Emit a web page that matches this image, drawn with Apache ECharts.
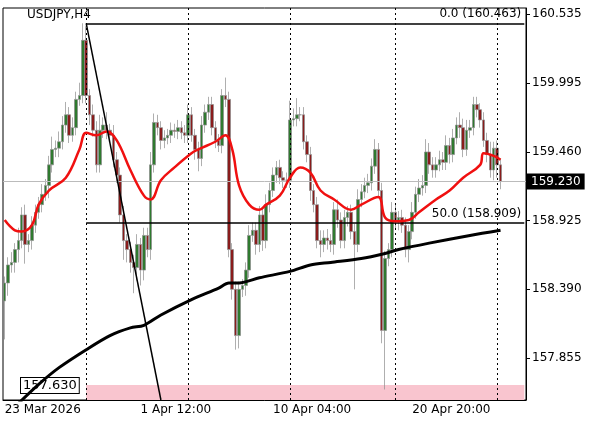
<!DOCTYPE html>
<html>
<head>
<meta charset="utf-8">
<script src="https://cdn.jsdelivr.net/npm/echarts@6/dist/echarts.min.js"></script>
<style>html,body{margin:0;padding:0;background:#fff}#chart{width:596px;height:425px}</style>
</head>
<body>
<div id="chart"></div>
<script>
var closes = [158.44,158.58,158.60,158.70,158.77,158.97,158.74,158.77,158.89,158.99,
  159.05,159.13,159.20,159.36,159.48,159.49,159.54,159.67,159.75,159.59,
  159.65,159.87,159.90,160.33,159.90,159.75,159.63,159.36,159.63,159.67,
  159.63,159.59,159.40,159.28,158.97,158.77,158.70,158.60,158.56,158.74,
  158.54,158.81,158.70,159.36,159.69,159.65,159.55,159.57,159.59,159.63,
  159.62,159.65,159.61,159.59,159.75,159.59,159.48,159.41,159.67,159.77,
  159.83,159.65,159.55,159.51,159.90,159.87,158.70,158.39,158.03,158.39,
  158.42,158.54,158.81,158.85,158.74,158.97,158.77,159.05,159.16,159.28,
  159.34,159.26,159.24,159.24,159.71,159.72,159.75,159.75,159.54,159.44,
  159.16,159.05,158.77,158.74,158.79,158.77,158.74,159.01,158.93,158.77,
  158.95,158.99,158.84,158.74,159.09,159.15,159.20,159.22,159.35,159.48,
  159.16,158.07,158.63,158.70,158.99,158.92,158.95,158.89,158.70,158.84,
  158.99,159.13,159.18,159.20,159.46,159.36,159.32,159.36,159.40,159.38,
  159.51,159.44,159.57,159.67,159.65,159.48,159.63,159.65,159.83,159.79,
  159.71,159.55,159.44,159.32,159.49,159.36,159.23]
var firstOpen = 158.30
// wick lengths above / below the body
var wickUp = [0.05,0.06,0.08,0.05,0.10,0.06,0.08,0.05,0.07,0.06,
  0.06,0.08,0.05,0.07,0.10,0.06,0.08,0.07,0.10,0.06,
  0.08,0.06,0.10,0.06,0.11,0.05,0.08,0.07,0.12,0.06,
  0.10,0.05,0.08,0.06,0.06,0.07,0.05,0.06,0.06,0.08,
  0.05,0.06,0.06,0.10,0.07,0.06,0.05,0.06,0.05,0.06,
  0.05,0.06,0.05,0.06,0.08,0.06,0.05,0.06,0.07,0.06,
  0.06,0.06,0.05,0.05,0.05,0.14,0.06,0.05,0.06,0.06,
  0.05,0.06,0.08,0.06,0.06,0.07,0.06,0.08,0.06,0.06,
  0.05,0.06,0.05,0.06,0.15,0.08,0.13,0.06,0.06,0.05,
  0.06,0.05,0.06,0.08,0.06,0.07,0.05,0.06,0.08,0.06,
  0.06,0.05,0.06,0.06,0.08,0.06,0.06,0.07,0.06,0.08,
  0.05,0.06,0.06,0.05,0.08,0.06,0.05,0.06,0.06,0.05,
  0.08,0.06,0.07,0.08,0.10,0.07,0.06,0.06,0.07,0.06,
  0.08,0.06,0.07,0.06,0.10,0.07,0.08,0.06,0.06,0.06,
  0.05,0.06,0.06,0.10,0.05,0.06,0.05]
var wickDn = [0.30,0.10,0.06,0.08,0.10,0.06,0.15,0.06,0.07,0.06,
  0.05,0.06,0.05,0.10,0.06,0.06,0.07,0.06,0.06,0.06,
  0.05,0.06,0.05,0.06,0.06,0.08,0.05,0.06,0.06,0.06,
  0.07,0.05,0.06,0.06,0.06,0.15,0.10,0.08,0.20,0.10,
  0.12,0.08,0.06,0.08,0.06,0.06,0.07,0.06,0.05,0.06,
  0.05,0.06,0.05,0.06,0.06,0.05,0.08,0.10,0.06,0.06,
  0.06,0.06,0.06,0.05,0.06,0.06,0.06,0.08,0.11,0.10,
  0.06,0.08,0.06,0.05,0.08,0.06,0.08,0.06,0.06,0.05,
  0.06,0.05,0.06,0.06,0.06,0.05,0.06,0.05,0.06,0.06,
  0.08,0.06,0.06,0.10,0.06,0.07,0.06,0.08,0.06,0.06,
  0.06,0.07,0.06,0.35,0.06,0.06,0.05,0.06,0.06,0.06,
  0.06,0.10,0.46,0.06,0.06,0.06,0.07,0.06,0.06,0.10,
  0.06,0.05,0.06,0.06,0.06,0.07,0.06,0.06,0.05,0.06,
  0.06,0.07,0.06,0.05,0.08,0.06,0.05,0.06,0.06,0.06,
  0.06,0.05,0.06,0.06,0.08,0.10,0.06]
// red (fast) and black (slow) moving averages: [bar index, price]
var maFast = [[0,158.93],[3,158.85],[5,158.84],[8,158.89],[10,159.05],[13,159.16],[18,159.26],[22,159.48],
  [24,159.61],[27,159.59],[30,159.62],[33,159.55],[37,159.32],[41,159.12],[43,159.09],[46,159.24],
  [50,159.34],[55,159.45],[57,159.48],[62,159.54],[65,159.59],[67,159.48],[69,159.20],[72,159.05],
  [75,159.01],[77,159.05],[81,159.12],[84,159.26],[87,159.34],[90,159.30],[93,159.16],[97,159.09],
  [102,159.01],[105,159.05],[110,159.11],[112,158.95],[115,158.92],[119,158.93],[122,158.99],
  [127,159.09],[131,159.16],[135,159.26],[140,159.36],[141,159.45],[144,159.43],[146,159.40]]
var maSlow = [[4,157.50],[10,157.65],[16,157.78],[24,157.92],[31,158.03],[37,158.09],[41,158.11],
  [46,158.19],[55,158.31],[63,158.40],[66,158.44],[69,158.44],[75,158.48],[84,158.53],[90,158.58],
  [96,158.60],[105,158.63],[112,158.67],[116,158.70],[125,158.75],[137,158.81],[146,158.85]]
var priceTicks = [157.855, 158.390, 158.925, 159.460, 159.995, 160.535]
var labelIdx = [0, 40, 79, 120]
var labelTxt = ['23 Mar 2026', '1 Apr 12:00', '10 Apr 04:00', '20 Apr 20:00']
var gridIdx = [24, 54, 84, 115, 145]
var fibHigh = 160.463, fibMid = 158.909, lastPrice = 159.230, zoneTop = 157.645
var yMin = 157.528, yMax = 160.582
var nCats = 154

var cats = [], candles = [], prev = firstOpen
for (var i = 0; i < nCats; i++) cats.push(String(i))
closes.forEach(function (c, i) {
  var o = prev
  candles.push([o, c, Math.min(o, c) - wickDn[i], Math.max(o, c) + wickUp[i]])
  prev = c
})
candles[23][3] = fibHigh

var chart = echarts.init(document.getElementById('chart'))
var font = 'Tahoma, "DejaVu Sans", sans-serif'
chart.setOption({
  animation: false,
  title: { text: 'USDJPY,H4', left: 22, top: 4, textStyle: { fontSize: 12, fontWeight: 'normal', color: '#000', fontFamily: font } },
  grid: { left: 3, right: 70, top: 8, bottom: 25, show: true, borderColor: '#000', borderWidth: 1 },
  xAxis: {
    type: 'category', data: cats, boundaryGap: true,
    axisLine: { lineStyle: { color: '#000' } },
    axisTick: { length: 3, alignWithLabel: true, interval: function (i) { return labelIdx.indexOf(i) >= 0 } },
    axisLabel: {
      interval: function (i) { return labelIdx.indexOf(i) >= 0 },
      formatter: function (v, i) { return labelTxt[labelIdx.indexOf(i)] },
      align: 'left', color: '#000', fontSize: 12, fontFamily: font, margin: 4
    },
    splitLine: { show: false }
  },
  yAxis: {
    type: 'value', position: 'right', min: yMin, max: yMax, scale: true,
    axisLine: { show: true, lineStyle: { color: '#000' } },
    axisTick: { show: true, length: 4, customValues: priceTicks },
    axisLabel: { customValues: priceTicks, formatter: function (v) { return v.toFixed(3) }, color: '#000', fontSize: 12, fontFamily: font, margin: 6 },
    splitLine: { show: false }
  },
  graphic: [{
    type: 'text', left: 20, top: 377,
    style: { text: '157.630', fontSize: 13, fontFamily: font, fill: '#000', backgroundColor: '#fff', borderColor: '#000', borderWidth: 1, padding: [1, 2] }
  }],
  series: [
    {
      type: 'candlestick', data: candles, barWidth: 3,
      itemStyle: { color: '#2f7a2f', color0: '#8a1c1c', borderColor: '#8c8c8c', borderColor0: '#8c8c8c', borderWidth: 0.7 },
      markLine: {
        symbol: 'none', silent: true,
        data: gridIdx.map(function (x) {
          return { xAxis: x, lineStyle: { color: '#000', type: [2, 3], width: 1 }, label: { show: false } }
        }).concat([
          { yAxis: lastPrice, lineStyle: { color: '#bbb', type: 'solid', width: 1 },
            label: { show: true, position: 'end', formatter: lastPrice.toFixed(3), backgroundColor: '#000', color: '#fff', fontSize: 12, fontFamily: font, padding: [2, 4], distance: 1 } },
          [{ coord: [24, fibHigh], lineStyle: { color: '#000', type: 'solid', width: 1.5 },
             label: { show: true, position: 'insideEndTop', formatter: '0.0 (' + fibHigh.toFixed(3) + ')', color: '#000', fontSize: 12, fontFamily: font, distance: 3 } },
           { coord: [nCats - 1, fibHigh] }],
          [{ coord: [24, fibMid], lineStyle: { color: '#000', type: 'solid', width: 1.5 },
             label: { show: true, position: 'insideEndTop', formatter: '50.0 (' + fibMid.toFixed(3) + ')', color: '#000', fontSize: 12, fontFamily: font, distance: 3 } },
           { coord: [nCats - 1, fibMid] }]
        ])
      },
      markArea: {
        silent: true,
        itemStyle: { color: '#f9c5cf' },
        data: [[{ coord: [24, yMin] }, { coord: [nCats - 1, zoneTop] }]]
      },
      z: 3
    },
    { type: 'line', data: maSlow, smooth: 0.3, symbol: 'none', lineStyle: { color: '#000', width: 3 }, z: 4 },
    { type: 'line', data: maFast, smooth: 0.4, symbol: 'none', lineStyle: { color: '#f01010', width: 2.5 }, z: 5 },
    { type: 'line', data: [[24, fibHigh], [46, yMin]], symbol: 'none', lineStyle: { color: '#000', width: 1.5 }, z: 6 }
  ]
})
</script>
</body>
</html>
